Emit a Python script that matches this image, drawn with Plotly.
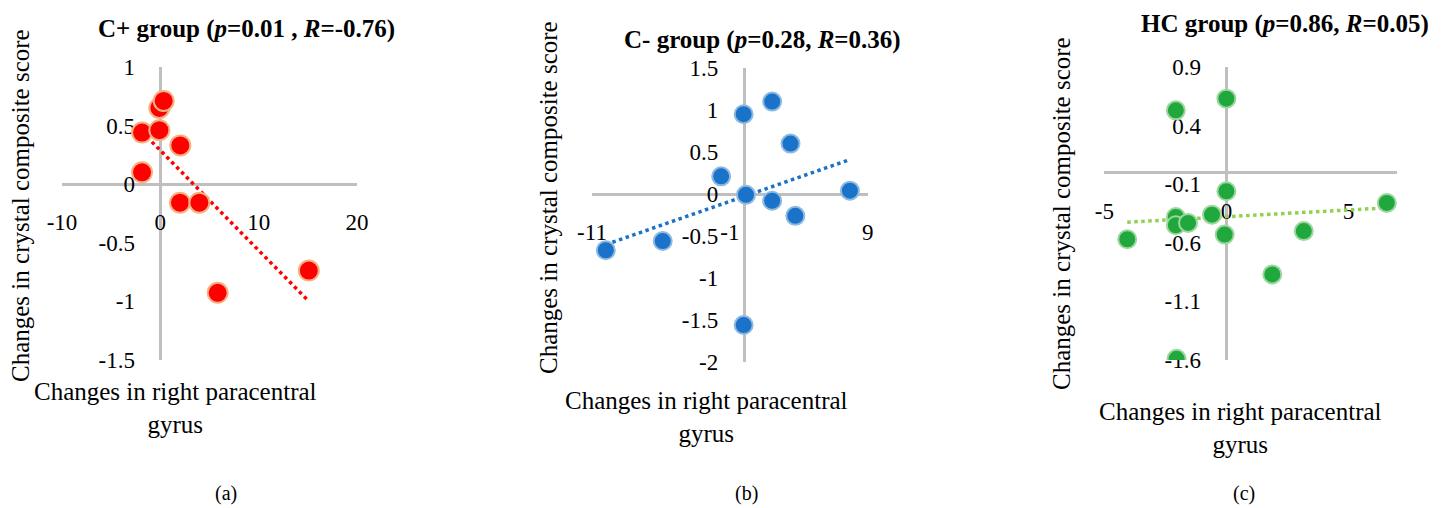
import numpy as np
import plotly.graph_objects as go

W, H = 1447, 508
OFF = 8  # page body margin offset (px) to compensate
FONT = "Liberation Serif, Times New Roman, serif"

# ---------------- data ----------------
a_x = [-1.86, -0.1, -0.1, 0.34, 2.03, -1.86, 2.0, 3.97, 5.83, 15.1]
a_y = [0.44, 0.46, 0.65, 0.71, 0.33, 0.10, -0.16, -0.16, -0.93, -0.74]

b_x = [-10.0, -5.87, -1.63, 0.0, 0.17, 0.0, 2.07, 2.07, 3.4, 3.75, 7.71]
b_y = [-0.67, -0.56, 0.21, 0.95, -0.01, -1.56, 1.10, -0.08, 0.60, -0.26, 0.04]

c_x = [-4.06, -2.07, 0.0, 0.0, -2.07, -2.07, -1.57, -0.59, -0.07, 3.17, 1.88, 6.57, -2.04]
c_y = [-0.57, 0.53, 0.63, -0.16, -0.38, -0.45, -0.43, -0.36, -0.53, -0.50, -0.87, -0.26, -1.59]

a_xticks = [-10, 0, 10, 20]
a_xtext = ["-10", "0", "10", "20"]
a_yticks = [-1.5, -1, -0.5, 0, 0.5, 1]
a_ytext = ["-1.5", "-1", "-0.5", "0", "0.5", "1"]

b_xticks = [-11, -1, 9]
b_xtext = ["-11", "-1", "9"]
b_yticks = [-2, -1.5, -1, -0.5, 0, 0.5, 1, 1.5]
b_ytext = ["-2", "-1.5", "-1", "-0.5", "0", "0.5", "1", "1.5"]

c_xticks = [-5, 0, 5]
c_xtext = ["-5", "0", "5"]
c_yticks = [-1.6, -1.1, -0.6, -0.1, 0.4, 0.9]
c_ytext = ["-1.6", "-1.1", "-0.6", "-0.1", "0.4", "0.9"]

titles = [
    "<b>C+ group (<i>p</i>=0.01 , <i>R</i>=-0.76)</b>",
    "<b>C- group (<i>p</i>=0.28, <i>R</i>=0.36)</b>",
    "<b>HC group (<i>p</i>=0.86, <i>R</i>=0.05)</b>",
]
ytitle = "Changes in crystal composite score"
xtitle = "Changes in right paracentral<br>gyrus"
panel_labels = ["(a)", "(b)", "(c)"]

# ---------------- layout geometry (pixels in the page) ----------------
panels = [
    dict(x=a_x, y=a_y, xr=[-10, 20], yr=[-1.5, 1], px=(62, 357), py=(67, 359.5),
         xt=(a_xticks, a_xtext), yt=(a_yticks, a_ytext),
         color="#FF0000", edge="#F4B183", size=20, trend="#FF0000",
         title_pos=(247, 29), yt_pos=(20, 206), xt_pos=(175, 408), lab_pos=(226, 493)),
    dict(x=b_x, y=b_y, xr=[-11, 9], yr=[-2, 1.5], px=(592, 867.7), py=(68, 362),
         xt=(b_xticks, b_xtext), yt=(b_yticks, b_ytext),
         color="#1A73C8", edge="#8DB9E2", size=18, trend="#1A73C8",
         title_pos=(762, 40), yt_pos=(548, 198), xt_pos=(706, 417), lab_pos=(746, 493)),
    dict(x=c_x, y=c_y, xr=[-5, 7], yr=[-1.6, 0.9], px=(1104.3, 1397.3), py=(67, 360),
         xt=(c_xticks, c_xtext), yt=(c_yticks, c_ytext),
         color="#20A83C", edge="#9BD79F", size=18, trend="#92D050",
         title_pos=(1285, 24), yt_pos=(1062, 214), xt_pos=(1240, 428), lab_pos=(1244, 493)),
]


def fx(px):
    return (px - OFF) / W


def fy(py):
    return 1 - (py - OFF) / H


fig = go.Figure()
annotations = []
layout = {}

for i, p in enumerate(panels, start=1):
    xs = "" if i == 1 else str(i)
    xd = [fx(p["px"][0]), fx(p["px"][1])]
    yd = [fy(p["py"][1]), fy(p["py"][0])]
    # position of zero crossing in paper coords
    ypos0 = yd[0] + (0 - p["yr"][0]) / (p["yr"][1] - p["yr"][0]) * (yd[1] - yd[0])
    xpos0 = xd[0] + (0 - p["xr"][0]) / (p["xr"][1] - p["xr"][0]) * (xd[1] - xd[0])

    layout["xaxis" + xs] = dict(
        domain=xd, range=p["xr"], anchor="free", position=ypos0, automargin=False,
        showgrid=False, zeroline=False, showline=True, linecolor="#BFBFBF", linewidth=2.5,
        ticks="", tickvals=p["xt"][0], ticktext=p["xt"][1], ticklabelstandoff=17,
        tickfont=dict(family=FONT, size=23, color="#000000"), layer="below traces",
        fixedrange=True,
    )
    layout["yaxis" + xs] = dict(
        domain=yd, range=p["yr"], anchor="free", position=xpos0, automargin=False,
        showgrid=False, zeroline=False, showline=True, linecolor="#BFBFBF", linewidth=2.5,
        ticks="", tickvals=p["yt"][0], ticktext=p["yt"][1], ticklabelstandoff=20,
        tickfont=dict(family=FONT, size=23, color="#000000"), layer="below traces",
        fixedrange=True,
    )

    # trend line (least squares)
    xarr = np.array(p["x"]); yarr = np.array(p["y"])
    k, b = np.polyfit(xarr, yarr, 1)
    tx = [xarr.min(), xarr.max()]
    ty = [k * tx[0] + b, k * tx[1] + b]
    fig.add_trace(go.Scatter(
        x=tx, y=ty, mode="lines", xaxis="x" + xs, yaxis="y" + xs,
        line=dict(color=p["trend"], width=3.5, dash="dot"), showlegend=False, hoverinfo="skip",
    ))
    fig.add_trace(go.Scatter(
        x=p["x"], y=p["y"], mode="markers", xaxis="x" + xs, yaxis="y" + xs,
        marker=dict(color=p["color"], size=p["size"], line=dict(color=p["edge"], width=2)),
        showlegend=False,
    ))

    annotations.append(dict(
        text=titles[i - 1], x=fx(p["title_pos"][0]), y=fy(p["title_pos"][1]),
        xref="paper", yref="paper", showarrow=False, xanchor="center", yanchor="middle",
        borderpad=0, font=dict(family=FONT, size=25, color="#000000"),
    ))
    annotations.append(dict(
        text=ytitle, x=fx(p["yt_pos"][0]), y=fy(p["yt_pos"][1]), textangle=-90,
        xref="paper", yref="paper", showarrow=False, xanchor="center", yanchor="middle",
        font=dict(family=FONT, size=25, color="#000000"),
    ))
    annotations.append(dict(
        text=xtitle, x=fx(p["xt_pos"][0]), y=fy(p["xt_pos"][1]),
        xref="paper", yref="paper", showarrow=False, xanchor="center", yanchor="middle",
        font=dict(family=FONT, size=25, color="#000000"),
    ))
    annotations.append(dict(
        text=panel_labels[i - 1], x=fx(p["lab_pos"][0]), y=fy(p["lab_pos"][1]),
        xref="paper", yref="paper", showarrow=False, xanchor="center", yanchor="middle",
        font=dict(family=FONT, size=20, color="#000000"),
    ))

fig.update_layout(
    width=W, height=H, margin=dict(l=0, r=0, t=0, b=0, autoexpand=False),
    paper_bgcolor="#FFFFFF", plot_bgcolor="rgba(0,0,0,0)",
    font=dict(family=FONT, color="#000000"),
    annotations=annotations, showlegend=False, **layout,
)

fig.write_html("out.html")
